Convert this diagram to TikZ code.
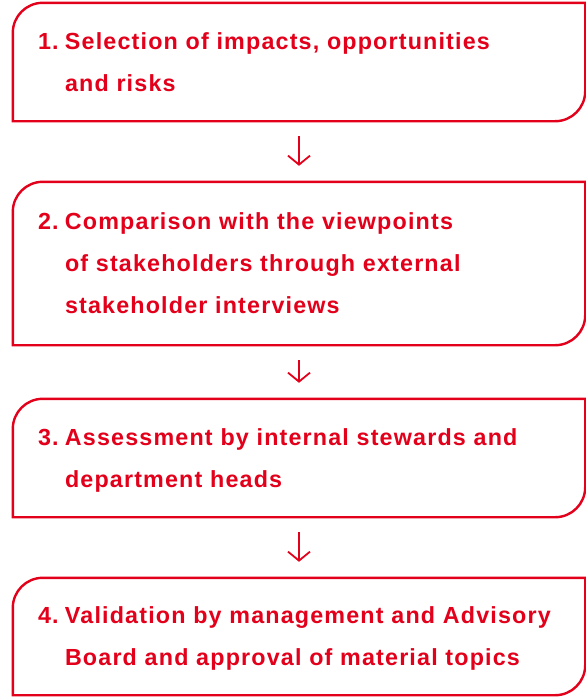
\documentclass[tikz,border=0pt]{standalone}
\usepackage{fontspec}
\setmainfont{Liberation Sans}[LetterSpace=5]
\usetikzlibrary{arrows.meta}
\definecolor{mred}{RGB}{226,0,26}
\newcommand{\stepframe}[1]{%
  \draw[frame] (#1.south west) -- ([yshift=-30pt]#1.north west)
    arc[start angle=180,end angle=90,radius=30pt] -- (#1.north east)
    -- ([yshift=30pt]#1.south east)
    arc[start angle=0,end angle=-90,radius=30pt] -- cycle;}
\newcommand{\steptext}[2]{\makebox[27pt][l]{#1}\begin{tabular}[t]{@{}l@{}}#2\end{tabular}}

\begin{document}
\begin{tikzpicture}[x=1pt,y=1pt,
	stepbox/.style={minimum width=572pt, inner xsep=25pt, inner ysep=0pt,
		text width=522pt, align=left, text=mred,
		font=\fontsize{23.3}{42}\selectfont\bfseries},
	frame/.style={draw=mred, line width=2.4pt},
	flowarrow/.style={draw=mred, line width=1.8pt,
		-{Straight Barb[length=9pt,width=22pt,line width=1.8pt]},
		shorten <=15pt, shorten >=16pt}]
	\useasboundingbox (0,0) rectangle (586,-699);
	\node[stepbox, minimum height=118pt] (s1) at (299,-62)
		{\steptext{1.}{Selection of impacts, opportunities\\and risks}};
	\node[stepbox, minimum height=163pt] (s2) at (299,-263.5)
		{\steptext{2.}{Comparison with the viewpoints\\of stakeholders through external\\stakeholder interviews}};
	\node[stepbox, minimum height=118pt] (s3) at (299,-458)
		{\steptext{3.}{Assessment by internal stewards and\\department heads}};
	\node[stepbox, minimum height=117pt] (s4) at (299,-636.5)
		{\steptext{4.}{Validation by management and Advisory\\Board and approval of material topics}};
	\stepframe{s1}
	\stepframe{s2}
	\stepframe{s3}
	\stepframe{s4}
	\draw[flowarrow] (s1) -- (s2);
	\draw[flowarrow] (s2) -- (s3);
	\draw[flowarrow] (s3) -- (s4);
\end{tikzpicture}
\end{document}
